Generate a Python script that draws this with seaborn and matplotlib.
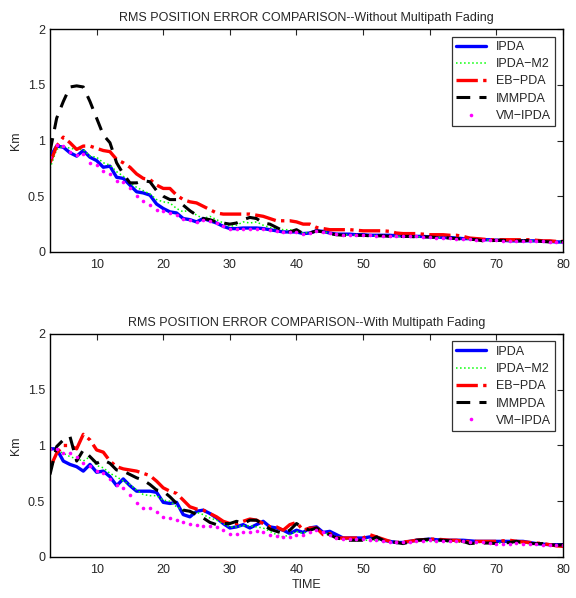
import matplotlib
matplotlib.use("Agg")
import matplotlib.pyplot as plt
import seaborn as sns
import numpy as np

# time steps
time = list(range(3, 81))

# top panel: without multipath fading
ipda_top = [0.85, 0.95, 0.94, 0.89, 0.86, 0.91, 0.85, 0.82, 0.76, 0.77, 0.67, 0.66, 0.60, 0.54, 0.53, 0.51,
            0.43, 0.39, 0.36, 0.35, 0.30, 0.29, 0.27, 0.30, 0.28, 0.26, 0.23, 0.21, 0.21, 0.215, 0.215, 0.215,
            0.21, 0.20, 0.19, 0.18, 0.18, 0.18, 0.165, 0.17, 0.19, 0.185, 0.17, 0.16, 0.16, 0.16, 0.155, 0.155,
            0.15, 0.15, 0.15, 0.15, 0.145, 0.145, 0.14, 0.14, 0.14, 0.135, 0.135, 0.13, 0.13, 0.125, 0.12, 0.12,
            0.115, 0.11, 0.11, 0.105, 0.105, 0.10, 0.10, 0.10, 0.10, 0.10, 0.095, 0.095, 0.09, 0.09]
ipdam2_top = [0.75, 0.92, 0.95, 0.93, 0.92, 0.92, 0.86, 0.85, 0.80, 0.78, 0.72, 0.68, 0.62, 0.58, 0.55, 0.52,
              0.47, 0.45, 0.44, 0.39, 0.36, 0.38, 0.33, 0.30, 0.32, 0.29, 0.26, 0.23, 0.24, 0.27, 0.26, 0.27,
              0.24, 0.22, 0.21, 0.20, 0.20, 0.19, 0.17, 0.175, 0.19, 0.18, 0.17, 0.16, 0.155, 0.155, 0.15, 0.15,
              0.15, 0.145, 0.145, 0.145, 0.14, 0.14, 0.14, 0.135, 0.135, 0.13, 0.13, 0.13, 0.125, 0.12, 0.12, 0.115,
              0.11, 0.11, 0.105, 0.105, 0.10, 0.10, 0.10, 0.10, 0.10, 0.095, 0.095, 0.09, 0.09, 0.09]
ebpda_top = [0.80, 0.95, 1.03, 0.98, 0.92, 0.95, 0.95, 0.93, 0.91, 0.90, 0.83, 0.80, 0.76, 0.70, 0.66, 0.65,
             0.60, 0.57, 0.57, 0.51, 0.47, 0.45, 0.44, 0.41, 0.38, 0.35, 0.34, 0.34, 0.34, 0.34, 0.34, 0.33,
             0.32, 0.30, 0.28, 0.28, 0.28, 0.27, 0.25, 0.25, 0.22, 0.21, 0.20, 0.20, 0.20, 0.20, 0.195, 0.19,
             0.19, 0.19, 0.19, 0.185, 0.17, 0.165, 0.165, 0.165, 0.16, 0.155, 0.155, 0.155, 0.15, 0.15, 0.14, 0.125,
             0.12, 0.115, 0.11, 0.11, 0.11, 0.11, 0.11, 0.11, 0.11, 0.105, 0.10, 0.10, 0.095, 0.095]
immpda_top = [0.90, 1.20, 1.35, 1.48, 1.49, 1.48, 1.35, 1.20, 1.05, 0.98, 0.80, 0.70, 0.62, 0.62, 0.64, 0.63,
              0.55, 0.50, 0.47, 0.47, 0.42, 0.37, 0.33, 0.30, 0.29, 0.27, 0.26, 0.25, 0.26, 0.29, 0.31, 0.30,
              0.26, 0.25, 0.22, 0.19, 0.18, 0.20, 0.165, 0.17, 0.19, 0.18, 0.165, 0.155, 0.15, 0.15, 0.15, 0.15,
              0.145, 0.145, 0.145, 0.14, 0.14, 0.14, 0.14, 0.135, 0.135, 0.135, 0.13, 0.13, 0.125, 0.12, 0.115, 0.115,
              0.11, 0.10, 0.10, 0.105, 0.105, 0.10, 0.10, 0.10, 0.105, 0.10, 0.095, 0.09, 0.09, 0.095]
vmipda_top = [0.85, 0.96, 0.95, 0.90, 0.87, 0.88, 0.80, 0.78, 0.73, 0.70, 0.64, 0.63, 0.57, 0.50, 0.46, 0.42,
              0.38, 0.37, 0.35, 0.33, 0.30, 0.29, 0.27, 0.29, 0.28, 0.26, 0.23, 0.21, 0.21, 0.21, 0.21, 0.21,
              0.21, 0.20, 0.19, 0.18, 0.175, 0.175, 0.165, 0.17, 0.185, 0.18, 0.17, 0.16, 0.155, 0.155, 0.15, 0.15,
              0.15, 0.145, 0.145, 0.145, 0.14, 0.14, 0.14, 0.14, 0.135, 0.135, 0.13, 0.13, 0.125, 0.12, 0.12, 0.115,
              0.11, 0.11, 0.105, 0.105, 0.10, 0.10, 0.10, 0.10, 0.10, 0.095, 0.095, 0.09, 0.09, 0.09]

# bottom panel: with multipath fading
ipda_bot = [0.97, 0.97, 0.86, 0.83, 0.81, 0.77, 0.83, 0.76, 0.77, 0.72, 0.64, 0.70, 0.64, 0.59, 0.59, 0.59,
            0.58, 0.49, 0.48, 0.49, 0.38, 0.36, 0.41, 0.42, 0.39, 0.35, 0.30, 0.26, 0.27, 0.29, 0.26, 0.29,
            0.32, 0.27, 0.26, 0.24, 0.21, 0.24, 0.22, 0.26, 0.27, 0.22, 0.23, 0.20, 0.17, 0.17, 0.17, 0.17,
            0.18, 0.18, 0.15, 0.14, 0.13, 0.13, 0.14, 0.15, 0.155, 0.16, 0.155, 0.15, 0.15, 0.15, 0.15, 0.145,
            0.14, 0.14, 0.14, 0.14, 0.14, 0.14, 0.14, 0.14, 0.13, 0.12, 0.115, 0.11, 0.11, 0.11]
ipdam2_bot = [0.72, 0.96, 0.93, 0.90, 0.88, 0.86, 0.90, 0.82, 0.80, 0.75, 0.72, 0.68, 0.65, 0.60, 0.56, 0.55,
              0.55, 0.51, 0.50, 0.45, 0.42, 0.40, 0.40, 0.38, 0.35, 0.33, 0.30, 0.27, 0.27, 0.28, 0.28, 0.27,
              0.26, 0.23, 0.20, 0.18, 0.20, 0.23, 0.21, 0.25, 0.25, 0.22, 0.20, 0.17, 0.16, 0.155, 0.15, 0.15,
              0.15, 0.15, 0.145, 0.14, 0.13, 0.13, 0.135, 0.14, 0.14, 0.14, 0.14, 0.14, 0.135, 0.135, 0.13, 0.13,
              0.13, 0.13, 0.13, 0.125, 0.125, 0.125, 0.125, 0.12, 0.12, 0.115, 0.11, 0.105, 0.10, 0.10]
ebpda_bot = [0.80, 0.93, 1.00, 1.00, 0.97, 1.10, 1.05, 0.96, 0.94, 0.86, 0.81, 0.79, 0.78, 0.77, 0.75, 0.73,
             0.68, 0.62, 0.59, 0.57, 0.51, 0.45, 0.43, 0.42, 0.39, 0.36, 0.32, 0.30, 0.30, 0.32, 0.34, 0.33,
             0.30, 0.27, 0.27, 0.24, 0.29, 0.31, 0.24, 0.26, 0.26, 0.20, 0.21, 0.17, 0.17, 0.17, 0.17, 0.17,
             0.20, 0.18, 0.16, 0.14, 0.13, 0.135, 0.14, 0.15, 0.155, 0.16, 0.16, 0.155, 0.15, 0.15, 0.14, 0.14,
             0.14, 0.14, 0.14, 0.14, 0.145, 0.15, 0.14, 0.135, 0.13, 0.125, 0.12, 0.11, 0.10, 0.095]
immpda_bot = [0.74, 0.99, 1.05, 1.08, 0.86, 0.96, 0.90, 0.84, 0.87, 0.84, 0.78, 0.77, 0.74, 0.71, 0.69, 0.65,
              0.60, 0.59, 0.54, 0.48, 0.42, 0.41, 0.38, 0.35, 0.31, 0.29, 0.30, 0.30, 0.32, 0.30, 0.33, 0.33,
              0.29, 0.25, 0.23, 0.21, 0.24, 0.30, 0.26, 0.24, 0.26, 0.22, 0.20, 0.17, 0.16, 0.15, 0.15, 0.15,
              0.15, 0.18, 0.15, 0.14, 0.13, 0.12, 0.135, 0.15, 0.155, 0.16, 0.155, 0.15, 0.145, 0.14, 0.14, 0.12,
              0.125, 0.125, 0.125, 0.12, 0.125, 0.13, 0.14, 0.13, 0.12, 0.12, 0.12, 0.11, 0.105, 0.11]
vmipda_bot = [0.97, 0.97, 0.93, 0.93, 0.90, 0.84, 0.82, 0.77, 0.75, 0.70, 0.65, 0.62, 0.56, 0.48, 0.44, 0.44,
              0.40, 0.36, 0.35, 0.33, 0.31, 0.30, 0.29, 0.28, 0.28, 0.27, 0.24, 0.21, 0.21, 0.22, 0.22, 0.23,
              0.22, 0.20, 0.19, 0.18, 0.18, 0.20, 0.20, 0.22, 0.24, 0.22, 0.20, 0.17, 0.16, 0.16, 0.16, 0.16,
              0.15, 0.15, 0.14, 0.13, 0.13, 0.13, 0.135, 0.14, 0.145, 0.15, 0.145, 0.14, 0.14, 0.14, 0.14, 0.135,
              0.13, 0.13, 0.125, 0.12, 0.12, 0.12, 0.125, 0.12, 0.12, 0.115, 0.11, 0.11, 0.11, 0.11]

titles = ["RMS POSITION ERROR COMPARISON--Without Multipath Fading",
          "RMS POSITION ERROR COMPARISON--With Multipath Fading"]
labels = ["IPDA", "IPDA\u2212M2", "EB\u2212PDA", "IMMPDA", "VM\u2212IPDA"]

sns.set_style("white")
plt.rcParams['font.family'] = ['Liberation Sans', 'DejaVu Sans']

fig = plt.figure(figsize=(5.76, 5.98), dpi=100)
ax_top = fig.add_axes([0.0868, 0.5786, 0.8906, 0.3729])
ax_bot = fig.add_axes([0.0868, 0.0686, 0.8906, 0.3729])

panels = [
    (ax_top, [ipda_top, ipdam2_top, ebpda_top, immpda_top, vmipda_top]),
    (ax_bot, [ipda_bot, ipdam2_bot, ebpda_bot, immpda_bot, vmipda_bot]),
]

for k, (ax, series) in enumerate(panels):
    ipda, m2, eb, imm, vm = series
    sns.lineplot(x=time, y=ipda, ax=ax, color='#0000ff', linewidth=2.4, label=labels[0])
    sns.lineplot(x=time, y=m2, ax=ax, color='#00ff00', linewidth=1.1, linestyle=':', label=labels[1])
    sns.lineplot(x=time, y=eb, ax=ax, color='#ff0000', linewidth=2.4, linestyle='-.', label=labels[2])
    sns.lineplot(x=time, y=imm, ax=ax, color='black', linewidth=2.2, linestyle=(0, (4.5, 3)), label=labels[3])
    sns.lineplot(x=time, y=vm, ax=ax, color='#ff00ff', linestyle='', marker='o', markersize=2.6,
                 markeredgewidth=0, label=labels[4])

    ax.set_xlim(3, 80)
    ax.set_ylim(0, 2)
    ax.set_xticks([10, 20, 30, 40, 50, 60, 70, 80])
    ax.set_yticks([0, 0.5, 1, 1.5, 2])
    ax.set_yticklabels(['0', '0.5', '1', '1.5', '2'])
    ax.tick_params(axis='x', pad=5)
    ax.tick_params(direction='in', length=4, width=0.8, top=True, right=True, labelsize=9)
    for sp in ax.spines.values():
        sp.set_color('black')
        sp.set_linewidth(1.0)
    ax.set_title(titles[k], fontsize=9, pad=6)
    ax.set_ylabel('Km', fontsize=9, labelpad=4)
    leg = ax.legend(loc='upper right', fontsize=9, frameon=True, fancybox=False,
                    edgecolor='black', borderpad=0.35, labelspacing=0.42,
                    handlelength=2.4, handletextpad=0.8, borderaxespad=0.6)
    leg.get_frame().set_linewidth(0.9)

ax_bot.set_xlabel('TIME', fontsize=9, labelpad=2)

fig.savefig('out.png', dpi=100)
